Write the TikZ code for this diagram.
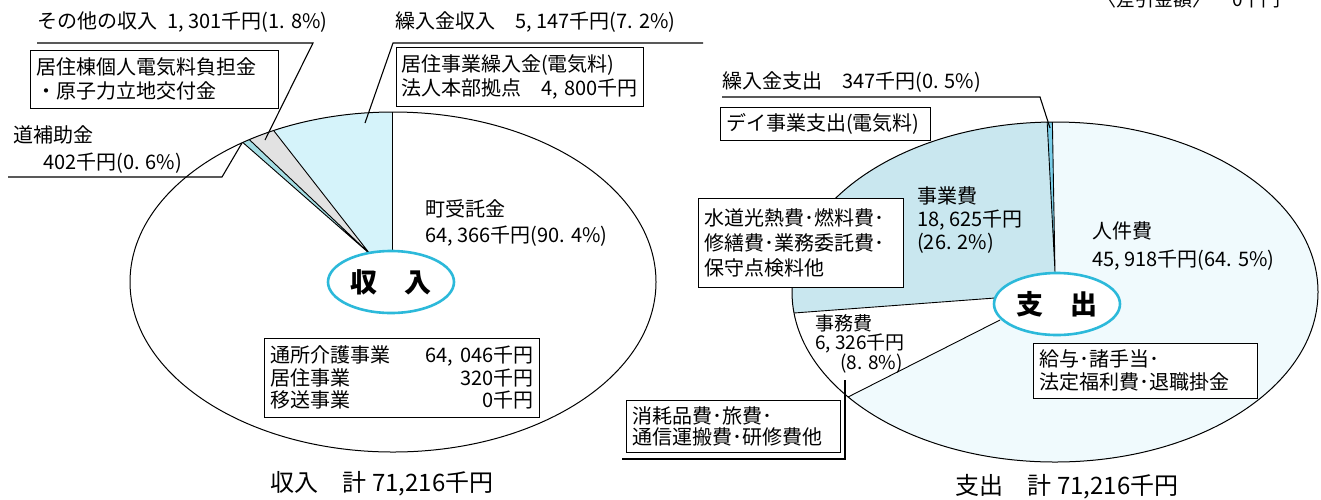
\documentclass[tikz,border=0pt]{standalone}
\usepackage{fontspec}
\setmainfont{Noto Sans CJK JP}
\usetikzlibrary{shapes.geometric}
\definecolor{incCyan}{HTML}{D5F3FA}
\definecolor{incGray}{HTML}{E2E2E2}
\definecolor{incSliver}{HTML}{A5DDE3}
\definecolor{expBlue}{HTML}{C9E7EF}
\definecolor{expPale}{HTML}{F0FAFD}
\definecolor{expSliver}{HTML}{7ACFEA}
\definecolor{ringCyan}{HTML}{2CB9DA}
\begin{document}
\begin{tikzpicture}[x=1pt,y=-1pt,
    txt/.style={inner sep=0pt, anchor=west, align=left, font=\fontsize{20}{26}\selectfont},
    bx/.style={draw, fill=white, line width=0.8pt, inner xsep=6pt, inner ysep=0pt, align=left, font=\fontsize{20}{24}\selectfont},
    lead/.style={line width=1.1pt},
    ring/.style={ellipse, draw=ringCyan, line width=2.6pt, fill=white, inner sep=0pt, minimum width=126pt, minimum height=62pt, font=\fontsize{27}{30}\selectfont\bfseries},
    total/.style={inner sep=0pt, font=\fontsize{24}{26}\selectfont}]
  \useasboundingbox[fill=white] (0,0) rectangle (1321,499);

  % income pie
  \begin{scope}
    \clip (393,282) ellipse [x radius=263, y radius=170];
    \fill[incCyan] (392,256) -- (392,90) -- (242,90) -- (370,254) -- cycle;
    \fill[incGray] (370,254) -- (242,90) -- (197,90) -- cycle;
    \fill[incSliver] (370,254) -- (197,90) -- (183,90) -- cycle;
    \draw[line width=0.9pt] (392,256) -- (392,90);
    \draw[line width=0.9pt] (370,254) -- (242,90) (370,254) -- (197,90) (370,254) -- (183,90);
  \end{scope}
  \draw[line width=1pt] (393,282) ellipse [x radius=263, y radius=170];

  % expense pie
  \begin{scope}
    \clip (1055,292) ellipse [x radius=263, y radius=170];
    \fill[expPale] (1055,292) ellipse [x radius=263, y radius=170];
    \fill[expBlue] (1055,272) -- (1046,100) -- (700,100) -- (700,320) -- (995,298) -- cycle;
    \fill[white] (995,298) -- (700,320) -- (700,472) -- (1000,320) -- cycle;
    \fill[expSliver] (1055,272) -- (1046,100) -- (1052,100) -- cycle;
    \draw[line width=0.9pt] (1055,272) -- (1046,100) (1055,272) -- (1052,100);
    \draw[line width=0.9pt] (995,298) -- (700,320) (1000,320) -- (700,472);
  \end{scope}
  \draw[line width=1pt] (1055,292) ellipse [x radius=263, y radius=170];

  % labels, income
  \node[txt] (othInc) at (37,22) {その他の収入\enspace 1, 301千円(1. 8\%)};
  \node[bx, text width=236pt, minimum height=58pt] (othIncBox) at (154,79) {居住棟個人電気料負担金\\・原子力立地交付金};
  \node[txt] (trfInc) at (395,22) {繰入金収入　5, 147千円(7. 2\%)};
  \node[bx, text width=237pt, inner xsep=5pt, minimum height=59pt] (trfIncBox) at (519.5,76.5) {居住事業繰入金(電気料)\\法人本部拠点　4,~800千円};
  \node[txt] (subInc) at (13,135) {道補助金};
  \node[txt] (subIncAmt) at (43,163) {402千円(0. 6\%)};
  \node[txt] (town) at (425,223) {町受託金\\64, 366千円(90. 4\%)};
  \node[bx, text width=263pt, minimum height=79pt, font=\fontsize{20}{22.5}\selectfont] (townBox) at (402,377.5)
    {通所介護事業\hfill 64, 046千円\\居住事業\hfill 320千円\\移送事業\hfill 0千円};
  \node[ring] (inRing) at (391,282) {収　入};
  \node[total] (inTotal) at (382,484) {収入　計 71,216千円};

  % labels, expense
  \node[txt] (trfExp) at (722,82) {繰入金支出　347千円(0. 5\%)};
  \node[bx, text width=198pt, minimum height=33pt] (trfExpBox) at (825,123.5) {デイ事業支出(電気料)};
  \node[txt, font=\fontsize{20}{23}\selectfont] (bizExp) at (917,220) {事業費\\18, 625千円\\(26. 2\%)};
  \node[bx, text width=193pt, minimum height=89pt, font=\fontsize{20}{25}\selectfont] (bizExpBox) at (800.5,242.5)
    {水道光熱費･燃料費･\\修繕費･業務委託費･\\保守点検料他};
  \node[txt, font=\fontsize{20}{28}\selectfont] (staffExp) at (1092,246) {人件費\\45, 918千円(64. 5\%)};
  \node[bx, text width=212pt, minimum height=55pt, font=\fontsize{20}{23}\selectfont] (staffExpBox) at (1145,370.5)
    {給与･諸手当･\\法定福利費･退職掛金};
  \node[txt, font=\fontsize{19}{19}\selectfont] (offExp) at (815,344) {事務費\\6, 326千円\\\hspace*{25pt}(8. 8\%)};
  \node[bx, text width=202pt, minimum height=52pt, font=\fontsize{20}{21}\selectfont] (offExpBox) at (733,426)
    {消耗品費･旅費･\\通信運搬費･研修費他};
  \node[ring] (outRing) at (1057,304) {支　出};
  \node[total] (outTotal) at (1067,487) {支出　計 71,216千円};

  % cut off at the top edge
  \node[inner sep=0pt, anchor=base west, font=\fontsize{19}{22}\selectfont] (diffLbl) at (1097,6) {〈差引金額〉};
  \node[inner sep=0pt, anchor=base west, font=\fontsize{19}{22}\selectfont] (diffAmt) at (1232,6) {0千円};

  % leaders
  \coordinate (othIncBend) at (313,43);
  \coordinate (othIncTip) at (265,140);
  \draw[lead] (othInc.west |- othIncBend) -- (othIncBend) -- (othIncTip);
  \coordinate (trfIncBend) at (393,43);
  \coordinate (trfIncEnd) at (703,43);
  \coordinate (trfIncTip) at (365,123);
  \draw[lead] (trfIncEnd) -- (trfIncBend) -- (trfIncTip);
  \coordinate (subStart) at (8,177);
  \coordinate (subBend) at (222,177);
  \coordinate (subTip) at (242,143);
  \draw[lead] (subStart) -- (subBend) -- (subTip);
  \coordinate (trfExpBend) at (1040,97);
  \coordinate (trfExpTip) at (1050,128);
  \draw[lead] (trfExp.west |- trfExpBend) -- (trfExpBend) -- (trfExpTip);
  \coordinate (offTip) at (845,380);
  \coordinate (offBend) at (845,459);
  \coordinate (offEnd) at (622,459);
  \draw[lead] (offTip) -- (offBend) -- (offEnd);
\end{tikzpicture}
\end{document}
